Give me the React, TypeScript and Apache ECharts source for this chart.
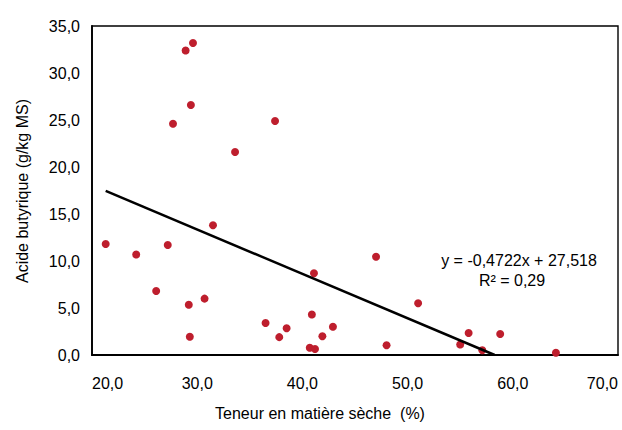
import React, { useEffect, useRef } from "react";
import * as echarts from "echarts";

// Teneur en matière sèche (%)
const matiereSeche = [
  29.6, 28.9, 29.4, 27.7, 37.4, 33.6, 31.5, 21.3, 24.2, 27.2, 41.1, 26.1, 29.2,
  30.7, 29.3, 36.5, 38.5, 37.8, 40.9, 42.9, 41.9, 40.7, 41.2, 47.0, 51.0, 48.0,
  55.8, 55.0, 58.8, 57.1, 64.1,
];
// Acide butyrique (g/kg MS)
const acideButyrique = [
  33.2, 32.4, 26.6, 24.6, 24.9, 21.6, 13.8, 11.8, 10.7, 11.7, 8.7, 6.8, 5.35,
  6.0, 1.95, 3.4, 2.85, 1.9, 4.3, 3.0, 2.0, 0.78, 0.64, 10.45, 5.5, 1.03, 2.34,
  1.12, 2.23, 0.5, 0.24,
];
// Linear trend line (Excel)
const slope = -0.4722;
const intercept = 27.518;
const rSquared = 0.29;

const xAxisRange = [20, 70];
const xAxisStep = 10;
const yAxisRange = [0, 35];
const yAxisStep = 5;

const xTitle = "Teneur en matière sèche  (%)";
const yTitle = "Acide butyrique (g/kg MS)";

const FONT = "'Liberation Sans', Arial, sans-serif";
const TEXT = "#000";
const fmt = (v: number) => v.toFixed(1).replace(".", ",");
const fmtCoef = (v: number, d: number) => v.toFixed(d).replace(".", ",");

export default function App() {
  const ref = useRef<HTMLDivElement>(null);
  useEffect(() => {
    document.body.style.margin = "0";
    if (!ref.current) return;
    const chart = echarts.init(ref.current, undefined, { renderer: "svg" });
    const points = matiereSeche.map((x, i) => [x, acideButyrique[i]]);
    const xStart = Math.min(...matiereSeche);
    const xZero = -intercept / slope;
    const trend = [
      [xStart, intercept + slope * xStart],
      [xZero, 0],
    ];
    const eq1 = `y = ${fmtCoef(slope, 4)}x + ${fmtCoef(intercept, 3)}`;
    const eq2 = `R² = ${fmtCoef(rSquared, 2)}`;
    chart.setOption({
      animation: false,
      backgroundColor: "#fff",
      grid: {
        left: 92,
        right: 4,
        top: 26,
        bottom: 75,
        show: true,
        borderColor: "#000",
        borderWidth: 1.4,
        outerBoundsMode: "none",
        containLabel: false,
      },
      xAxis: {
        type: "value",
        min: xAxisRange[0],
        max: xAxisRange[1],
        interval: xAxisStep,
        splitLine: { show: false },
        axisTick: { show: false },
        axisLine: { lineStyle: { color: "#000", width: 1.8 } },
        axisLabel: {
          color: TEXT,
          fontFamily: FONT,
          fontSize: 16,
          margin: 20,
          formatter: fmt,
          alignMinLabel: "left",
          alignMaxLabel: "right",
        },
      },
      yAxis: {
        type: "value",
        min: yAxisRange[0],
        max: yAxisRange[1],
        interval: yAxisStep,
        splitLine: { show: false },
        axisTick: { show: false },
        axisLine: { show: true, lineStyle: { color: "#000", width: 1.8 } },
        axisLabel: {
          color: TEXT,
          fontFamily: FONT,
          fontSize: 16,
          margin: 12,
          formatter: fmt,
        },
      },
      graphic: [
        {
          type: "text",
          x: 320,
          y: 413,
          style: {
            text: xTitle,
            align: "center",
            verticalAlign: "middle",
            fill: TEXT,
            font: `16px ${FONT}`,
          },
        },
        {
          type: "text",
          x: 22,
          y: 191,
          rotation: Math.PI / 2,
          style: {
            text: yTitle,
            align: "center",
            verticalAlign: "middle",
            fill: TEXT,
            font: `16px ${FONT}`,
          },
        },
        {
          type: "text",
          x: 519,
          y: 260,
          style: {
            text: eq1,
            align: "center",
            verticalAlign: "middle",
            fill: TEXT,
            font: `16px ${FONT}`,
          },
        },
        {
          type: "text",
          x: 512,
          y: 280,
          style: {
            text: eq2,
            align: "center",
            verticalAlign: "middle",
            fill: TEXT,
            font: `16px ${FONT}`,
          },
        },
      ],
      series: [
        {
          type: "line",
          data: trend,
          symbol: "none",
          lineStyle: { color: "#000", width: 2.5 },
          z: 3,
        },
        {
          type: "scatter",
          data: points,
          symbol: "circle",
          symbolSize: 8,
          itemStyle: { color: "#BE1E2D", opacity: 1 },
          z: 2,
        },
      ],
    });
    return () => chart.dispose();
  }, []);
  return <div ref={ref} style={{ width: 622, height: 430 }} />;
}
